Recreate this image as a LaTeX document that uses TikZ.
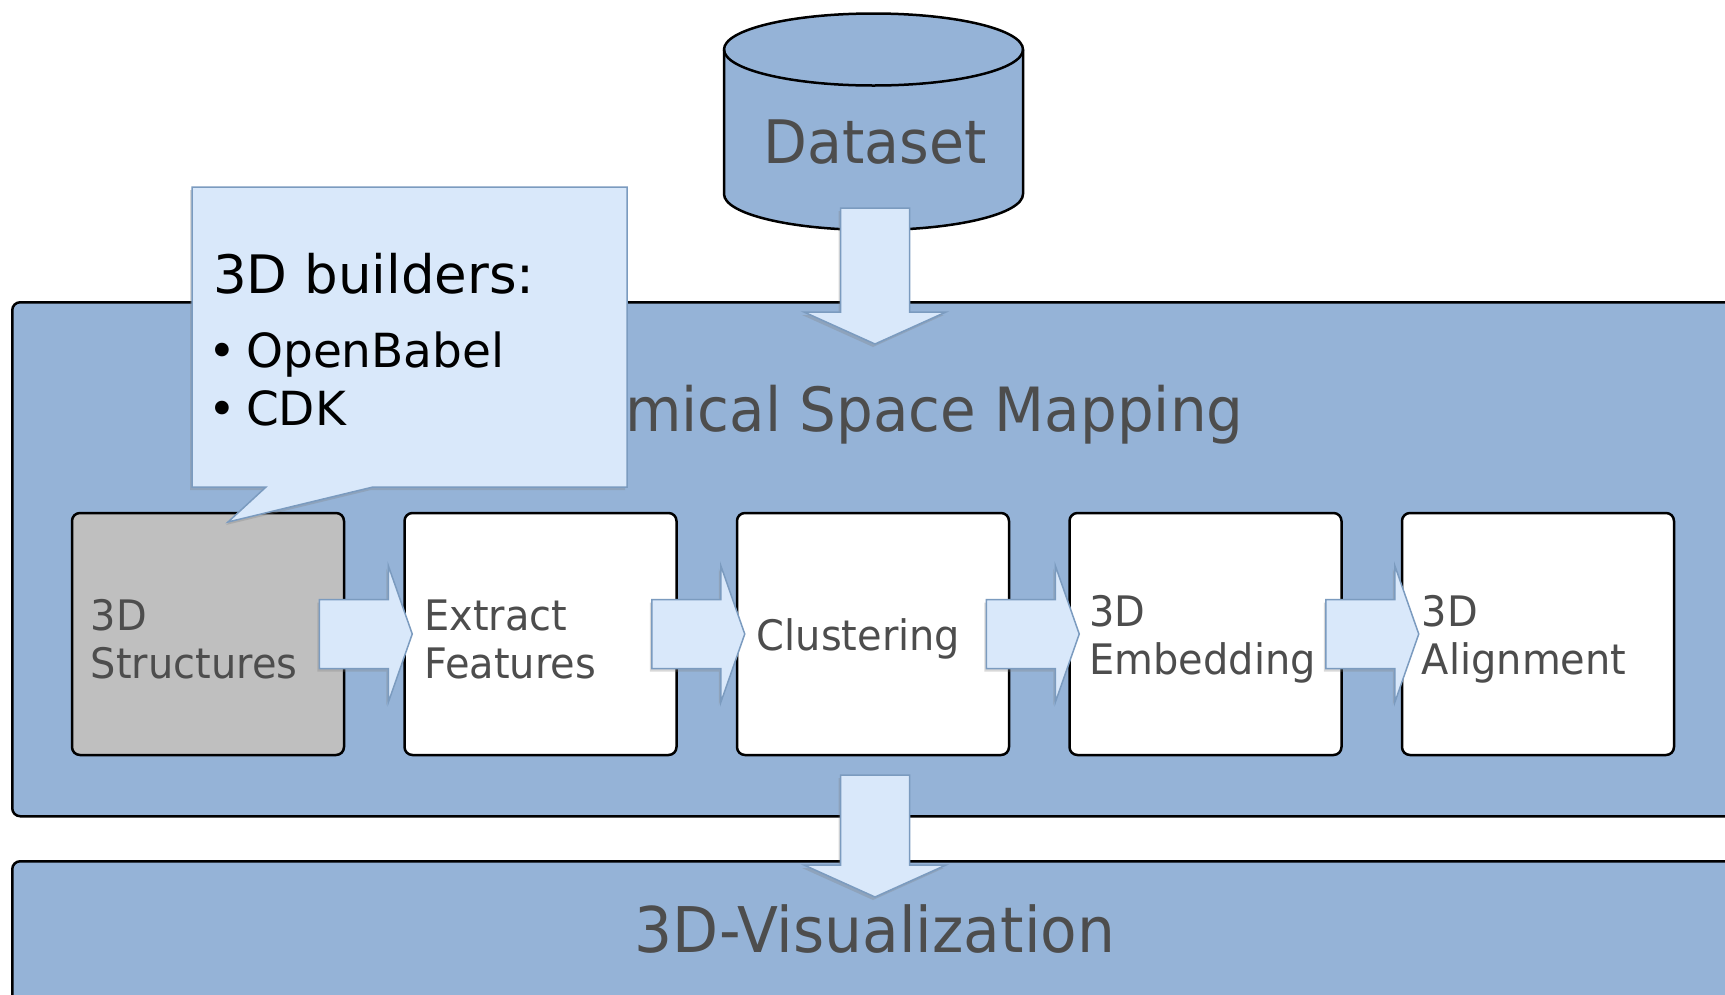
\documentclass[tikz,border=0pt]{standalone}
\usepackage{fontspec}
\setmainfont{DejaVu Sans}[FakeStretch=0.95]
\newfontfamily\calloutfont{DejaVu Sans}
\usetikzlibrary{calc,shadows}
\definecolor{panelblue}{HTML}{95B3D7}
\definecolor{labelgray}{HTML}{4D4D4D}
\definecolor{boxgray}{HTML}{BFBFBF}
\definecolor{arrowfill}{HTML}{D9E8FA}
\definecolor{arrowline}{HTML}{7B9BBF}
\tikzset{
  panel/.style={draw=black, line width=2.5pt, fill=panelblue, rounded corners=8pt, inner sep=0pt, anchor=north west},
  stepbox/.style={draw=black, line width=2.5pt, fill=white, rounded corners=8pt, minimum width=272pt, minimum height=242pt, inner sep=0pt},
  lbl/.style={text=labelgray, font=\fontsize{42}{48}\selectfont, inner sep=0pt, align=left, anchor=west},
  big/.style={text=labelgray, font=\fontsize{61}{66}\selectfont, inner sep=0pt},
  ctext/.style={text=black, inner sep=0pt, anchor=base west},
  blockarrow/.style={fill=arrowfill, draw=arrowline, line width=1.5pt, line join=miter,
    drop shadow={opacity=0.3, shadow xshift=-2pt, shadow yshift=-3pt}},
  callout/.style={fill=arrowfill, draw=arrowline, line width=1.5pt, line join=miter,
    drop shadow={opacity=0.3, shadow xshift=-2pt, shadow yshift=-3pt}},
  harrow/.pic={\path[blockarrow] (-93,34.5) -- (-24,34.5) -- (-24,68.5) -- (0,0) -- (-24,-68.5) -- (-24,-34.5) -- (-93,-34.5) -- cycle;},
  pics/varrow/.style={code={\path[blockarrow] (-34.5,#1) -- (34.5,#1) -- (34.5,32) -- (71,32) -- (0,0) -- (-71,32) -- (-34.5,32) -- cycle;}}
}
\begin{document}
\begin{tikzpicture}[x=1pt,y=1pt]
\clip (0,0) rectangle (1725,-994);
\fill[white] (0,0) rectangle (1725,-994);

% Chemical Space Mapping panel
\node[panel, minimum width=1740pt, minimum height=514pt] (csm) at (11,-301) {};
\node[big, anchor=base] (title) at (878,-431) {Chemical Space Mapping};

% step boxes
\node[stepbox, fill=boxgray] (b1) at (208,-634) {};
\node[stepbox] (b2) at (540.5,-634) {};
\node[stepbox] (b3) at (873,-634) {};
\node[stepbox] (b4) at (1205.5,-634) {};
\node[stepbox] (b5) at (1538,-634) {};

\node[lbl] (t1) at ($(b1.west)+(20,-5)$) {3D\\Structures};
\node[lbl] (t2) at ($(b2.west)+(21,-5)$) {Extract\\Features};
\node[lbl] (t3) at ($(b3.west)+(21,-5)$) {Clustering};
\node[lbl] (t4) at ($(b4.west)+(21,-5)$) {3D\\Embedding};
\node[lbl] (t5) at ($(b5.west)+(21,-5)$) {3D\\Alignment};

% horizontal block arrows
\pic at ($(b2.west)+(9,0)$) {harrow};
\pic at ($(b3.west)+(9,0)$) {harrow};
\pic at ($(b4.west)+(11,0)$) {harrow};
\pic at ($(b5.west)+(18,0)$) {harrow};

% 3D-Visualization panel
\node[panel, minimum width=1740pt, minimum height=200pt] (vis) at (11,-860) {};
\node[big, anchor=base, font=\fontsize{63}{66}\selectfont] (vislbl) at (875,-952) {3D-Visualization};

% arrow from mapping to visualization
\pic at (875,-897) {varrow=122};

% Dataset cylinder
\path[fill=panelblue, draw=black, line width=2.5pt]
  (724,-49.5) -- (724,-194) arc[start angle=180, end angle=360, x radius=149.5, y radius=36]
  -- (1023,-49.5) arc[start angle=0, end angle=180, x radius=149.5, y radius=36] -- cycle;
\draw[black, line width=2.5pt] (724,-49.5) arc[start angle=180, end angle=360, x radius=149.5, y radius=36];
\node[big, font=\fontsize{60}{66}\selectfont] (ds) at (875,-142) {Dataset};

% arrow from dataset into mapping
\pic at ($(ds)+(0,-202)$) {varrow=136};

% callout
\path[callout] (192,-187) -- (627,-187) -- (627,-487) -- (373,-487) -- (228,-522) -- (266,-487) -- (192,-487) -- cycle;
\node[ctext, font=\calloutfont\fontsize{53}{60}\selectfont] (ch) at (213,-293) {3D builders:};
\node[ctext, font=\calloutfont\fontsize{47}{54}\selectfont] (c1) at (208,-367) {\makebox[38pt][l]{•}OpenBabel};
\node[ctext, font=\calloutfont\fontsize{47}{54}\selectfont] (c2) at (208,-425) {\makebox[38pt][l]{•}CDK};
\end{tikzpicture}
\end{document}
